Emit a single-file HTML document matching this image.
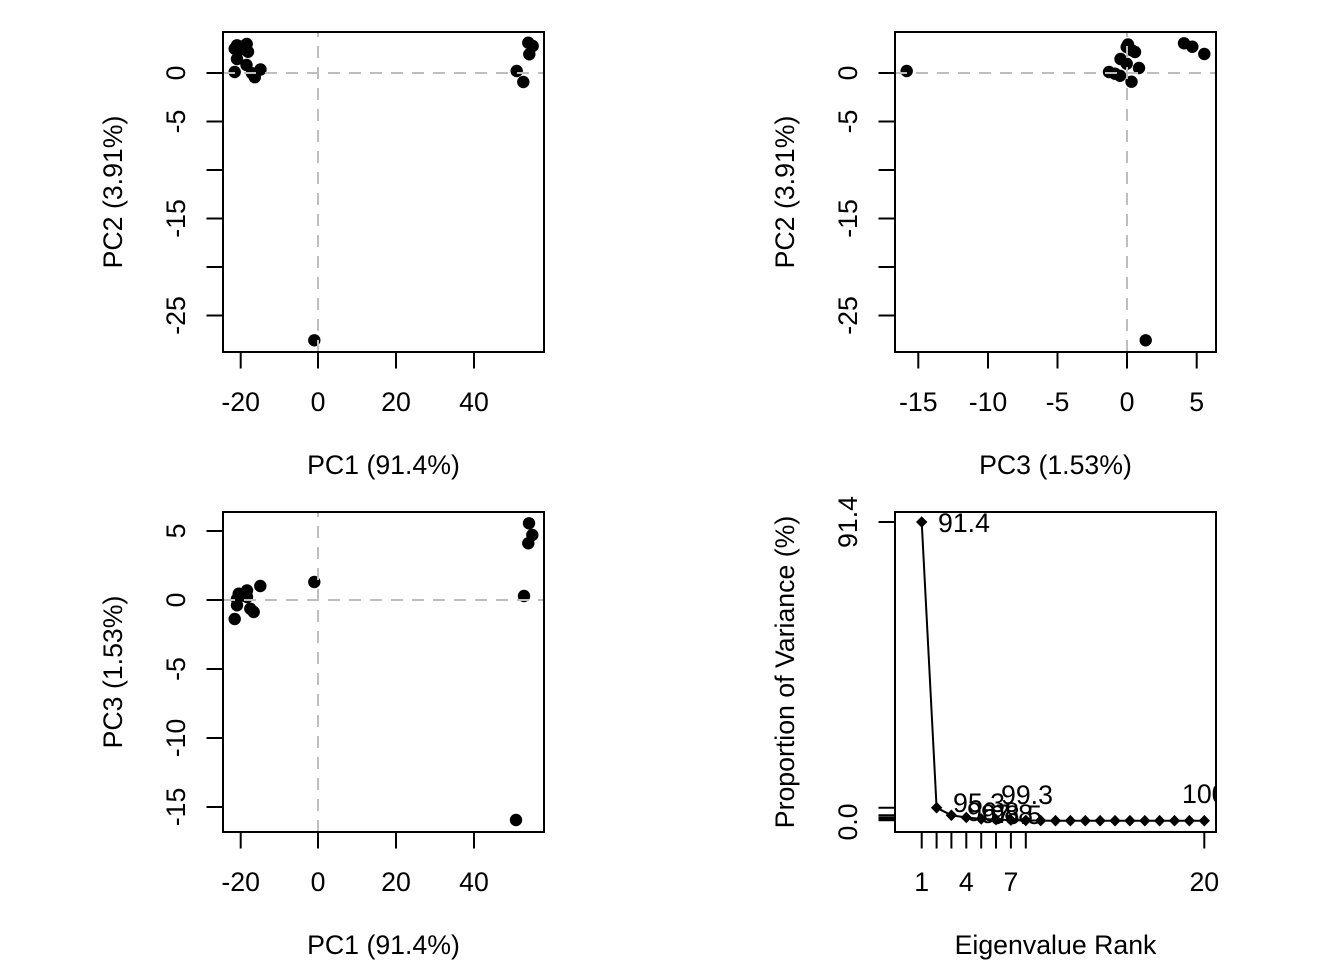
<!DOCTYPE html>
<html>
<head>
<meta charset="utf-8">
<style>
html,body{margin:0;padding:0;background:#fff;}
svg{display:block;}
text{font-family:"Liberation Sans",Arial,sans-serif;font-size:26.7px;fill:#000;}
</style>
</head>
<body>
<svg width="1344" height="960" viewBox="0 0 1344 960" xmlns="http://www.w3.org/2000/svg">
<rect width="1344" height="960" fill="#fff"/>
<defs>
<clipPath id="c4"><rect x="895" y="512" width="322" height="320"/></clipPath>
<clipPath id="c1"><rect x="223" y="32" width="321" height="320"/></clipPath>
<clipPath id="c2"><rect x="895" y="32" width="321" height="320"/></clipPath>
<clipPath id="c3"><rect x="223" y="512" width="321" height="320"/></clipPath>
</defs>

<!-- ========== Panel 1: PC1 vs PC2 ========== -->
<g fill="#000" clip-path="url(#c1)">
<circle cx="237" cy="45.3" r="6.2"/><circle cx="245.3" cy="45.3" r="6.2"/><circle cx="246.7" cy="44" r="6.2"/>
<circle cx="234.7" cy="48.7" r="6.2"/><circle cx="238.3" cy="50.7" r="6.2"/><circle cx="248" cy="51.8" r="6.2"/>
<circle cx="237" cy="59" r="6.2"/><circle cx="246.5" cy="65" r="6.2"/><circle cx="234.7" cy="72" r="6.2"/>
<circle cx="260.5" cy="69.5" r="6.2"/><circle cx="254.8" cy="77.2" r="6.2"/><circle cx="252" cy="73.2" r="6.2"/>
<circle cx="528.3" cy="42.7" r="6.2"/><circle cx="532.7" cy="46" r="6.2"/><circle cx="529.3" cy="54.3" r="6.2"/>
<circle cx="516.7" cy="71" r="6.2"/><circle cx="523.3" cy="82" r="6.2"/>
<circle cx="314.3" cy="340.3" r="6.2"/>
</g>
<g stroke="#bebebe" stroke-width="2" stroke-dasharray="12 9" fill="none" clip-path="url(#c1)">
<line x1="223" y1="73" x2="544" y2="73"/>
<line x1="318" y1="352" x2="318" y2="32"/>
</g>
<rect x="223" y="32" width="321" height="320" fill="none" stroke="#000" stroke-width="2"/>
<g stroke="#000" stroke-width="2">
<line x1="240.7" y1="352" x2="240.7" y2="368.5"/><line x1="318" y1="352" x2="318" y2="368.5"/>
<line x1="396" y1="352" x2="396" y2="368.5"/><line x1="474" y1="352" x2="474" y2="368.5"/>
<line x1="206.5" y1="73" x2="223" y2="73"/><line x1="206.5" y1="121.5" x2="223" y2="121.5"/>
<line x1="206.5" y1="170" x2="223" y2="170"/><line x1="206.5" y1="218.5" x2="223" y2="218.5"/>
<line x1="206.5" y1="267" x2="223" y2="267"/><line x1="206.5" y1="315.5" x2="223" y2="315.5"/>
</g>
<g text-anchor="middle" dominant-baseline="central">
<text x="240.7" y="402">-20</text><text x="318" y="402">0</text><text x="396" y="402">20</text><text x="474" y="402">40</text>
<text transform="translate(176,73) rotate(-90)">0</text>
<text transform="translate(176,121.5) rotate(-90)">-5</text>
<text transform="translate(176,218.5) rotate(-90)">-15</text>
<text transform="translate(176,315.5) rotate(-90)">-25</text>
<text x="383.5" y="465">PC1 (91.4%)</text>
<text transform="translate(113,192) rotate(-90)">PC2 (3.91%)</text>
</g>

<!-- ========== Panel 2: PC3 vs PC2 ========== -->
<g fill="#000" clip-path="url(#c2)">
<circle cx="906.7" cy="71" r="6.2"/>
<circle cx="1184" cy="43.3" r="6.2"/><circle cx="1192.3" cy="46.7" r="6.2"/><circle cx="1204.3" cy="54" r="6.2"/>
<circle cx="1128" cy="44.5" r="6.2"/><circle cx="1126.7" cy="47" r="6.2"/><circle cx="1131.7" cy="50.3" r="6.2"/>
<circle cx="1135" cy="52" r="6.2"/><circle cx="1120.5" cy="59" r="6.2"/><circle cx="1126.7" cy="63.7" r="6.2"/>
<circle cx="1139" cy="68" r="6.2"/><circle cx="1109" cy="72" r="6.2"/><circle cx="1115" cy="73.7" r="6.2"/>
<circle cx="1120" cy="75.8" r="6.2"/><circle cx="1131.5" cy="81.7" r="6.2"/>
<circle cx="1145.7" cy="340.3" r="6.2"/>
</g>
<g stroke="#bebebe" stroke-width="2" stroke-dasharray="12 9" fill="none" clip-path="url(#c2)">
<line x1="895" y1="73" x2="1216" y2="73"/>
<line x1="1127" y1="352" x2="1127" y2="32"/>
</g>
<rect x="895" y="32" width="321" height="320" fill="none" stroke="#000" stroke-width="2"/>
<g stroke="#000" stroke-width="2">
<line x1="918.3" y1="352" x2="918.3" y2="368.5"/><line x1="988" y1="352" x2="988" y2="368.5"/>
<line x1="1057.5" y1="352" x2="1057.5" y2="368.5"/><line x1="1127" y1="352" x2="1127" y2="368.5"/>
<line x1="1196.7" y1="352" x2="1196.7" y2="368.5"/>
<line x1="878.5" y1="73" x2="895" y2="73"/><line x1="878.5" y1="121.5" x2="895" y2="121.5"/>
<line x1="878.5" y1="170" x2="895" y2="170"/><line x1="878.5" y1="218.5" x2="895" y2="218.5"/>
<line x1="878.5" y1="267" x2="895" y2="267"/><line x1="878.5" y1="315.5" x2="895" y2="315.5"/>
</g>
<g text-anchor="middle" dominant-baseline="central">
<text x="918.3" y="402">-15</text><text x="988" y="402">-10</text><text x="1057.5" y="402">-5</text>
<text x="1127" y="402">0</text><text x="1196.7" y="402">5</text>
<text transform="translate(848,73) rotate(-90)">0</text>
<text transform="translate(848,121.5) rotate(-90)">-5</text>
<text transform="translate(848,218.5) rotate(-90)">-15</text>
<text transform="translate(848,315.5) rotate(-90)">-25</text>
<text x="1055.5" y="465">PC3 (1.53%)</text>
<text transform="translate(785,192) rotate(-90)">PC2 (3.91%)</text>
</g>

<!-- ========== Panel 3: PC1 vs PC3 ========== -->
<g fill="#000" clip-path="url(#c3)">
<circle cx="529" cy="523.3" r="6.2"/><circle cx="532.3" cy="535" r="6.2"/><circle cx="528.3" cy="543.3" r="6.2"/>
<circle cx="524" cy="596" r="6.2"/><circle cx="314.3" cy="582" r="6.2"/><circle cx="516" cy="820" r="6.2"/>
<circle cx="260.3" cy="586" r="6.2"/><circle cx="247" cy="590.5" r="6.2"/><circle cx="238.7" cy="593.7" r="6.2"/>
<circle cx="237" cy="599" r="6.2"/><circle cx="247" cy="597" r="6.2"/><circle cx="237" cy="605.3" r="6.2"/>
<circle cx="250.3" cy="608.7" r="6.2"/><circle cx="253.7" cy="612" r="6.2"/><circle cx="234.7" cy="619" r="6.2"/>
<circle cx="240" cy="596" r="6.2"/>
</g>
<g stroke="#bebebe" stroke-width="2" stroke-dasharray="12 9" fill="none" clip-path="url(#c3)">
<line x1="223" y1="600" x2="544" y2="600"/>
<line x1="318" y1="832" x2="318" y2="512"/>
</g>
<rect x="223" y="512" width="321" height="320" fill="none" stroke="#000" stroke-width="2"/>
<g stroke="#000" stroke-width="2">
<line x1="240.7" y1="832" x2="240.7" y2="848.5"/><line x1="318" y1="832" x2="318" y2="848.5"/>
<line x1="396" y1="832" x2="396" y2="848.5"/><line x1="474" y1="832" x2="474" y2="848.5"/>
<line x1="206.5" y1="531" x2="223" y2="531"/><line x1="206.5" y1="600" x2="223" y2="600"/>
<line x1="206.5" y1="669" x2="223" y2="669"/><line x1="206.5" y1="738" x2="223" y2="738"/>
<line x1="206.5" y1="807" x2="223" y2="807"/>
</g>
<g text-anchor="middle" dominant-baseline="central">
<text x="240.7" y="882">-20</text><text x="318" y="882">0</text><text x="396" y="882">20</text><text x="474" y="882">40</text>
<text transform="translate(176,531) rotate(-90)">5</text>
<text transform="translate(176,600) rotate(-90)">0</text>
<text transform="translate(176,669) rotate(-90)">-5</text>
<text transform="translate(176,738) rotate(-90)">-10</text>
<text transform="translate(176,807) rotate(-90)">-15</text>
<text x="383.5" y="945">PC1 (91.4%)</text>
<text transform="translate(113,672) rotate(-90)">PC3 (1.53%)</text>
</g>

<!-- ========== Panel 4: scree ========== -->
<g clip-path="url(#c4)">
<polyline fill="none" stroke="#000" stroke-width="2" points="921.7,522 936.6,807.7 951.4,815.3 966.3,817.5 981.2,818.9 996,819.6 1010.9,820.1 1025.8,820.4 1040.7,820.6 1055.5,820.7 1070.4,820.7 1085.3,820.7 1100.1,820.7 1115,820.7 1129.9,820.7 1144.8,820.7 1159.6,820.7 1174.5,820.7 1189.4,820.7 1204.3,820.7"/>
<g fill="#000">
<polygon points="921.7,516.2 927.4,522 921.7,527.8 916,522"/>
<polygon points="936.6,801.9 942.3,807.7 936.6,813.5 930.9,807.7"/>
<polygon points="951.4,809.5 957.1,815.3 951.4,821.1 945.7,815.3"/>
<polygon points="966.3,811.7 972,817.5 966.3,823.3 960.6,817.5"/>
<polygon points="981.2,813.1 986.9,818.9 981.2,824.7 975.5,818.9"/>
<polygon points="996,813.8 1001.7,819.6 996,825.4 990.3,819.6"/>
<polygon points="1010.9,814.3 1016.6,820.1 1010.9,825.9 1005.2,820.1"/>
<polygon points="1025.8,814.6 1031.5,820.4 1025.8,826.2 1020.1,820.4"/>
<polygon points="1040.7,814.8 1046.4,820.6 1040.7,826.4 1035,820.6"/>
<polygon points="1055.5,814.9 1061.2,820.7 1055.5,826.5 1049.8,820.7"/>
<polygon points="1070.4,814.9 1076.1,820.7 1070.4,826.5 1064.7,820.7"/>
<polygon points="1085.3,814.9 1091,820.7 1085.3,826.5 1079.6,820.7"/>
<polygon points="1100.1,814.9 1105.8,820.7 1100.1,826.5 1094.4,820.7"/>
<polygon points="1115,814.9 1120.7,820.7 1115,826.5 1109.3,820.7"/>
<polygon points="1129.9,814.9 1135.6,820.7 1129.9,826.5 1124.2,820.7"/>
<polygon points="1144.8,814.9 1150.5,820.7 1144.8,826.5 1139.1,820.7"/>
<polygon points="1159.6,814.9 1165.3,820.7 1159.6,826.5 1153.9,820.7"/>
<polygon points="1174.5,814.9 1180.2,820.7 1174.5,826.5 1168.8,820.7"/>
<polygon points="1189.4,814.9 1195.1,820.7 1189.4,826.5 1183.7,820.7"/>
<polygon points="1204.3,814.9 1210,820.7 1204.3,826.5 1198.6,820.7"/>
</g>
<g dominant-baseline="central">
<text x="938" y="523">91.4</text>
<text x="953" y="803">95.3</text>
<text x="967" y="812">96.8</text>
<text x="981" y="814">97.8</text>
<text x="990" y="815">98.5</text>
<text x="1001" y="795">99.3</text>
<text x="1182" y="794">100</text>
</g>
</g>
<rect x="895" y="512" width="321" height="320" fill="none" stroke="#000" stroke-width="2"/>
<g stroke="#000" stroke-width="2">
<line x1="921.7" y1="832" x2="921.7" y2="848.5"/><line x1="936.6" y1="832" x2="936.6" y2="848.5"/>
<line x1="951.4" y1="832" x2="951.4" y2="848.5"/><line x1="966.3" y1="832" x2="966.3" y2="848.5"/>
<line x1="981.2" y1="832" x2="981.2" y2="848.5"/><line x1="996" y1="832" x2="996" y2="848.5"/>
<line x1="1010.9" y1="832" x2="1010.9" y2="848.5"/><line x1="1025.8" y1="832" x2="1025.8" y2="848.5"/>
<line x1="1204.3" y1="832" x2="1204.3" y2="848.5"/>
<line x1="878.5" y1="522" x2="895" y2="522"/>
<line x1="878.5" y1="807.7" x2="895" y2="807.7"/>
<line x1="878.5" y1="815.3" x2="895" y2="815.3"/>
<line x1="878.5" y1="817.5" x2="895" y2="817.5"/>
<line x1="878.5" y1="818.9" x2="895" y2="818.9"/>
<line x1="878.5" y1="820.2" x2="895" y2="820.2"/>
</g>
<g text-anchor="middle" dominant-baseline="central">
<text x="921.7" y="882">1</text><text x="966.3" y="882">4</text><text x="1010.9" y="882">7</text><text x="1204.3" y="882">20</text>
<text transform="translate(848,522) rotate(-90)">91.4</text>
<text transform="translate(848,822) rotate(-90)">0.0</text>
<text x="1055.5" y="945">Eigenvalue Rank</text>
<text transform="translate(785,672) rotate(-90)">Proportion of Variance (%)</text>
</g>
</svg>
</body>
</html>
